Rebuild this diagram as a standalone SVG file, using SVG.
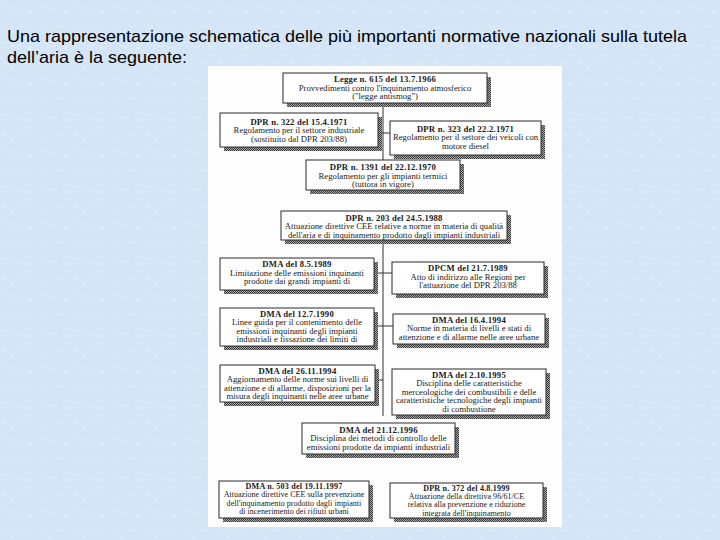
<svg xmlns="http://www.w3.org/2000/svg" width="720" height="540" viewBox="0 0 720 540">
<defs>
<pattern id="bgtex" width="36" height="36" patternUnits="userSpaceOnUse">
<rect width="36" height="36" fill="#d4e5f7"/>
<path d="M3 8 q5 -4 9 1 q4 4 9 -1 M20 24 q4 5 9 1 M2 28 q4 -3 7 1" fill="none" stroke="#e4eefa" stroke-width="1.2" opacity="0.7"/>
<circle cx="30" cy="12" r="2.2" fill="#e2edf9" opacity="0.7"/>
<circle cx="12" cy="32" r="1.8" fill="#e2edf9" opacity="0.7"/>
<circle cx="22" cy="4" r="1.4" fill="#c9dcf1" opacity="0.6"/>
<circle cx="7" cy="18" r="1.4" fill="#c9dcf1" opacity="0.6"/>
</pattern>
<pattern id="dither" width="2" height="2" patternUnits="userSpaceOnUse">
<rect width="2" height="2" fill="#a8a8a8"/>
<rect width="1" height="1" fill="#3a3a3a"/>
<rect x="1" y="1" width="1" height="1" fill="#3a3a3a"/>
</pattern>
<style>
.sh{fill:url(#dither)}
.bx{fill:#ffffff;stroke:#2a2a2a;stroke-width:1}
.t{font-family:"Liberation Serif","DejaVu Serif",serif;font-size:8.7px;fill:#1a1a1a;text-anchor:middle}
.s{font-size:8.1px}
.h{font-weight:bold;letter-spacing:0.2px}
.c{stroke:#333;stroke-width:1;fill:none}
.ttl{font-family:"Liberation Sans",Arial,sans-serif;font-size:17px;fill:#000}
</style>
</defs>
<rect width="720" height="540" fill="url(#bgtex)"/>
<text class="ttl" x="7" y="42" textLength="680" lengthAdjust="spacingAndGlyphs">Una rappresentazione schematica delle più importanti normative nazionali sulla tutela</text>
<text class="ttl" x="7" y="63" textLength="180" lengthAdjust="spacingAndGlyphs">dell’aria è la seguente:</text>
<rect x="208" y="66" width="354" height="461" fill="#fdfdfd"/>

<g id="connectors">
<line class="c" x1="383" y1="103" x2="383" y2="160"/>
<line class="c" x1="378" y1="133" x2="390" y2="133"/>
<line class="c" x1="383" y1="243" x2="383" y2="416"/>
<line class="c" x1="374" y1="273" x2="392" y2="273"/>
<line class="c" x1="374" y1="326" x2="393" y2="326"/>
<line class="c" x1="375" y1="380" x2="383" y2="380"/>
</g>

<g id="n_legge615">
<rect class="sh" x="287" y="77" width="204" height="30"/>
<rect class="bx" x="283" y="73" width="204" height="30"/>
<text class="t h" x="385" y="81.5">Legge n. 615 del 13.7.1966</text>
<text class="t" x="385" y="90.5">Provvedimenti contro l'inquinamento atmosferico</text>
<text class="t" x="385" y="99">("legge antismog")</text>
</g>

<g id="n_dpr322">
<rect class="sh" x="224" y="117" width="158" height="34"/>
<rect class="bx" x="220" y="113" width="158" height="34"/>
<text class="t h" x="299" y="124.5">DPR n. 322 del 15.4.1971</text>
<text class="t" x="299" y="133">Regolamento per il settore industriale</text>
<text class="t" x="299" y="141.5">(sostituito dal DPR 203/88)</text>
</g>

<g id="n_dpr323">
<rect class="sh" x="394" y="125" width="151" height="34"/>
<rect class="bx" x="390" y="121" width="151" height="34"/>
<text class="t h" x="465.5" y="131.5">DPR n. 323 del 22.2.1971</text>
<text class="t" x="465.5" y="140">Regolamento per il settore dei veicoli con</text>
<text class="t" x="465.5" y="148.5">motore diesel</text>
</g>

<g id="n_dpr1391">
<rect class="sh" x="310" y="164" width="154" height="30"/>
<rect class="bx" x="306" y="160" width="154" height="30"/>
<text class="t h" x="383" y="170">DPR n. 1391 del 22.12.1970</text>
<text class="t" x="383" y="178.5">Regolamento per gli impianti termici</text>
<text class="t" x="383" y="187">(tuttora in vigore)</text>
</g>

<g id="n_dpr203">
<rect class="sh" x="285" y="215" width="226" height="29"/>
<rect class="bx" x="281" y="211" width="226" height="29"/>
<text class="t h" x="394" y="220.5">DPR n. 203 del 24.5.1988</text>
<text class="t" x="394" y="229">Attuazione direttive CEE relative a norme in materia di qualità</text>
<text class="t" x="394" y="237.5">dell'aria e di inquinamento prodotto dagli impianti industriali</text>
</g>

<g id="n_dma1989">
<rect class="sh" x="224" y="262" width="154" height="32"/>
<rect class="bx" x="220" y="258" width="154" height="32"/>
<text class="t h" x="297" y="267">DMA del 8.5.1989</text>
<text class="t" x="297" y="275.5">Limitazione delle emissioni inquinanti</text>
<text class="t" x="297" y="284">prodotte dai grandi impianti di</text>
</g>

<g id="n_dpcm1989">
<rect class="sh" x="396" y="266" width="152" height="32"/>
<rect class="bx" x="392" y="262" width="152" height="32"/>
<text class="t h" x="468" y="271">DPCM del 21.7.1989</text>
<text class="t" x="468" y="279.5">Atto di indirizzo alle Regioni per</text>
<text class="t" x="468" y="288">l'attuazione del DPR 203/88</text>
</g>

<g id="n_dma1990">
<rect class="sh" x="224" y="312" width="154" height="38"/>
<rect class="bx" x="220" y="308" width="154" height="38"/>
<text class="t h" x="297" y="316.5">DMA del 12.7.1990</text>
<text class="t" x="297" y="325">Linee guida per il contenimento delle</text>
<text class="t" x="297" y="333.5">emissioni inquinanti degli impianti</text>
<text class="t" x="297" y="342">industriali e fissazione dei limiti di</text>
</g>

<g id="n_dma1994a">
<rect class="sh" x="397" y="318" width="152" height="30"/>
<rect class="bx" x="393" y="314" width="152" height="30"/>
<text class="t h" x="469" y="322.5">DMA del 16.4.1994</text>
<text class="t" x="469" y="331">Norme in materia di livelli e stati di</text>
<text class="t" x="469" y="339.5">attenzione e di allarme nelle aree urbane</text>
</g>

<g id="n_dma1994b">
<rect class="sh" x="224" y="369" width="155" height="37"/>
<rect class="bx" x="220" y="365" width="155" height="37"/>
<text class="t h" x="297.5" y="373.5">DMA del 26.11.1994</text>
<text class="t" x="297.5" y="382">Aggiornamento delle norme sui livelli di</text>
<text class="t" x="297.5" y="390.5">attenzione e di allarme, disposizioni per la</text>
<text class="t" x="297.5" y="399">misura degli inquinanti nelle aree urbane</text>
</g>

<g id="n_dma1995">
<rect class="sh" x="396" y="373" width="154" height="46"/>
<rect class="bx" x="392" y="369" width="154" height="46"/>
<text class="t h" x="469" y="377.5">DMA del 2.10.1995</text>
<text class="t" x="469" y="386">Disciplina delle caratteristiche</text>
<text class="t" x="469" y="394.5">merceologiche dei combustibili e delle</text>
<text class="t" x="469" y="403">caratteristiche  tecnologiche degli impianti</text>
<text class="t" x="469" y="411.5">di combustione</text>
</g>

<g id="n_dma1996">
<rect class="sh" x="306" y="427" width="153" height="31"/>
<rect class="bx" x="302" y="423" width="153" height="31"/>
<text class="t h" x="378.5" y="432.5">DMA del 21.12.1996</text>
<text class="t" x="378.5" y="441">Disciplina dei metodi di controllo delle</text>
<text class="t" x="378.5" y="449.5">emissioni prodotte da impianti industriali</text>
</g>

<g id="n_dma503">
<rect class="sh" x="223" y="485" width="150" height="37"/>
<rect class="bx" x="219" y="481" width="150" height="37"/>
<text class="t s h" x="294" y="489">DMA n. 503 del 19.11.1997</text>
<text class="t s" x="294" y="497.4">Attuazione direttive CEE sulla prevenzione</text>
<text class="t s" x="294" y="505.8">dell'inquinamento prodotto dagli impianti</text>
<text class="t s" x="294" y="514.2">di incenerimento dei rifiuti urbani</text>
</g>

<g id="n_dpr372">
<rect class="sh" x="394" y="487" width="153" height="35"/>
<rect class="bx" x="390" y="483" width="153" height="35"/>
<text class="t s h" x="466.5" y="490.5">DPR n. 372 del 4.8.1999</text>
<text class="t s" x="466.5" y="498.9">Attuazione della direttiva 96/61/CE</text>
<text class="t s" x="466.5" y="507.3">relativa alla prevenzione e riduzione</text>
<text class="t s" x="466.5" y="515.7">integrata dell'inquinamento</text>
</g>
</svg>
